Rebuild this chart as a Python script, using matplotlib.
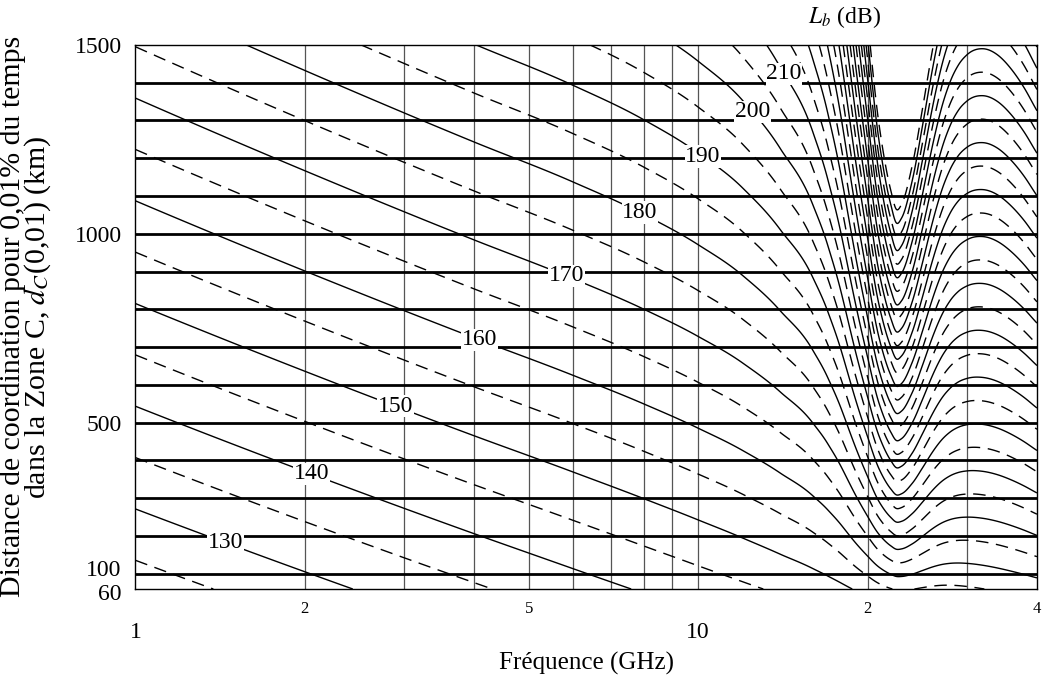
import numpy as np
import matplotlib.pyplot as plt

plt.rcParams['font.family'] = ['Liberation Serif', 'DejaVu Serif']
plt.rcParams['mathtext.fontset'] = 'stix'
plt.rcParams['lines.dashed_pattern'] = (9, 5.5)

# attenuation rate along the path (dB/km), per frequency (GHz)
freq_nodes = [1, 2, 4, 6, 8, 10, 12, 14, 16, 17, 18, 19, 20, 21, 22, 22.5,
              23, 24, 25, 26, 27, 28, 29, 30, 32, 34, 36, 38, 40]
rate_nodes = [0.0368, 0.0377, 0.0386, 0.0391, 0.0399, 0.0412, 0.0432, 0.0466,
              0.0520, 0.0572, 0.0655, 0.0785, 0.0950, 0.1160, 0.1330, 0.1390,
              0.1370, 0.1250, 0.1110, 0.0995, 0.0915, 0.0865, 0.0835, 0.0818,
              0.0805, 0.0810, 0.0828, 0.0855, 0.0890]
loss_at_1ghz = 120.0     # dB
loss_per_decade = 20.0   # dB per decade of frequency

solid_levels = list(range(130, 300, 10))
dashed_levels = list(range(125, 300, 10))
label_levels = [130, 140, 150, 160, 170, 180, 190, 200, 210]
label_pos = [(1.45, 190), (2.05, 362), (2.9, 543), (4.08, 717), (5.83, 887),
             (7.87, 1054), (10.2, 1204), (12.5, 1323), (14.3, 1425)]

y_ticks = [500, 1000, 1500]
y_low_ticks = [(100, 2.5), (60, -4)]   # value, vertical nudge (pt)
x_major = [1, 10]
x_minor = [2, 5, 20, 40]
x_minor_labels = ['2', '5', '2', '4']
v_grid = [2, 3, 4, 5, 6, 7, 8, 9, 10, 20, 30]
h_grid = list(range(100, 1500, 100))


def hermite(xn, yn, x):
    xn = np.asarray(xn, float)
    yn = np.asarray(yn, float)
    m = np.gradient(yn, xn)
    i = np.clip(np.searchsorted(xn, x) - 1, 0, len(xn) - 2)
    h = xn[i + 1] - xn[i]
    t = (x - xn[i]) / h
    return ((2 * t**3 - 3 * t**2 + 1) * yn[i] + (t**3 - 2 * t**2 + t) * h * m[i]
            + (-2 * t**3 + 3 * t**2) * yn[i + 1] + (t**3 - t**2) * h * m[i + 1])


lf = np.linspace(0, np.log10(40), 1600)
dist = np.linspace(60, 1500, 800)
rate = hermite(np.log10(freq_nodes), rate_nodes, lf)
LF, D = np.meshgrid(lf, dist)
Lb = loss_at_1ghz + loss_per_decade * LF + rate[None, :] * D
F = 10 ** LF

fig = plt.figure(figsize=(10.43, 6.88), dpi=100)
ax = fig.add_axes([0.1299, 0.1439, 0.8643, 0.7911])
ax.set_xscale('log')

for f in v_grid:
    ax.axvline(f, color='#555555', lw=0.9, zorder=1)
for d in h_grid:
    ax.axhline(d, color='black', lw=2.0, zorder=1)

cs_d = ax.contour(F, D, Lb, levels=dashed_levels, colors='black',
                  linewidths=1.0, linestyles='dashed', zorder=2)
cs_s = ax.contour(F, D, Lb, levels=solid_levels, colors='black',
                  linewidths=1.0, linestyles='solid', zorder=2)
labels = ax.clabel(cs_s, levels=label_levels, manual=label_pos, inline=False,
                   fmt='%d', fontsize=17)
for t in labels:
    t.set_rotation(0)
    t.set_bbox(dict(facecolor='white', edgecolor='none', pad=0.5))
    t.set_zorder(5)

ax.set_xlim(1, 40)
ax.set_ylim(60, 1500)
ax.set_yticks(y_ticks)
ax.set_yticklabels([str(v) for v in y_ticks])
for v, dy in y_low_ticks:
    ax.annotate(str(v), xy=(0, v), xycoords=('axes fraction', 'data'),
                xytext=(-10, dy), textcoords='offset points',
                ha='right', va='center', fontsize=17)
ax.set_xticks(x_major)
ax.set_xticklabels(['1', '10'])
ax.set_xticks(x_minor, minor=True)
ax.set_xticklabels(x_minor_labels, minor=True)
ax.tick_params(axis='x', which='major', length=0, pad=24, labelsize=17)
ax.tick_params(axis='x', which='minor', length=0, pad=9, labelsize=12)
ax.tick_params(axis='y', length=0, pad=10, labelsize=17)
for s in ax.spines.values():
    s.set_linewidth(1.0)

ax.set_xlabel('Fréquence (GHz)', fontsize=18, labelpad=6)
ax.set_ylabel('Distance de coordination pour 0,01% du temps\n'
              'dans la Zone C, $d_C$(0,01) (km)', fontsize=21.5, linespacing=0.8)
ax.yaxis.set_label_coords(-0.092, 0.5)
ax.text(0.787, 1.05, '$L_b$ (dB)', transform=ax.transAxes,
        ha='center', va='center', fontsize=17)

fig.savefig('out.png', dpi=100)
